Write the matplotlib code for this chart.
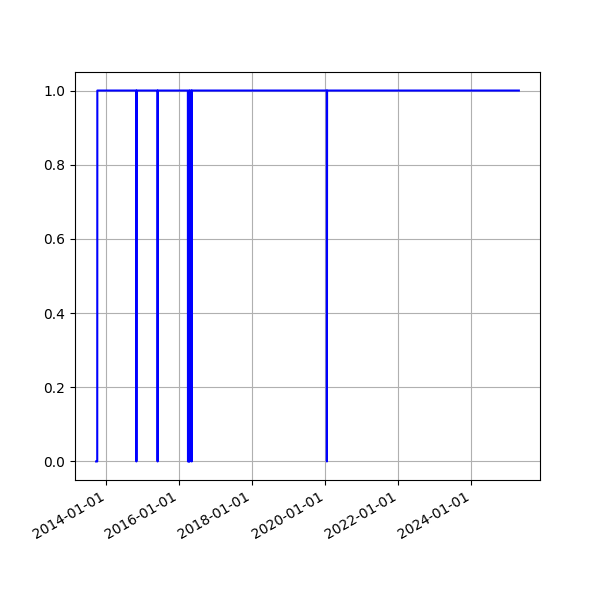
import matplotlib
matplotlib.use('Agg')
import matplotlib.pyplot as plt
import matplotlib.dates as mdates
import pandas as pd

dates = ['2013-09-20', '2013-10-01', '2013-10-02',
         '2014-10-27', '2014-10-28', '2014-10-30',
         '2015-05-27', '2015-05-28', '2015-05-30',
         '2016-03-26', '2016-03-27', '2016-04-05', '2016-04-06',
         '2016-04-07', '2016-04-08', '2016-04-12', '2016-04-13',
         '2016-05-02', '2016-05-03', '2016-05-05',
         '2020-01-15', '2020-01-16', '2020-01-18',
         '2025-04-20']
values = [0, 0, 1,
          1, 0, 1,
          1, 0, 1,
          1, 0, 0, 1,
          1, 0, 0, 1,
          1, 0, 1,
          1, 0, 1,
          1]

x = pd.to_datetime(dates)

fig, ax = plt.subplots(figsize=(6, 6), dpi=100)
ax.plot(x, values, color='blue')
ax.grid(True)
ax.xaxis.set_major_formatter(mdates.DateFormatter('%Y-%m-%d'))
fig.autofmt_xdate()
plt.savefig('out.png')
